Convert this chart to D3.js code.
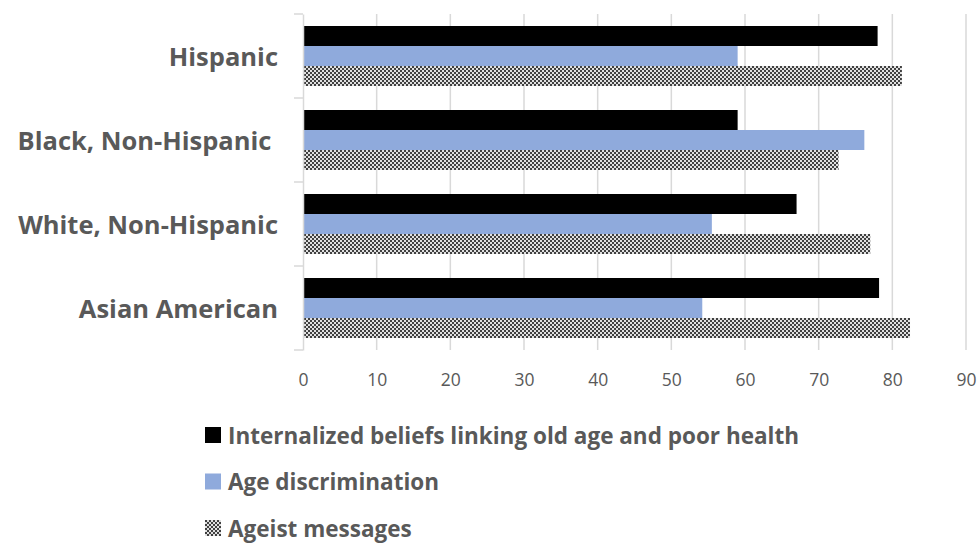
<!DOCTYPE html>
<html>
<head>
<meta charset="utf-8">
<script src="https://cdn.jsdelivr.net/npm/d3@7"></script>
<style>
  html, body { margin: 0; padding: 0; background: #fff; }
  svg { display: block; }
  text { font-family: "Open Sans", sans-serif; fill: #595959; }
</style>
</head>
<body>
<svg id="chart" width="979" height="544"></svg>
<script>
const categories = ["Hispanic", "Black, Non-Hispanic", "White, Non-Hispanic", "Asian American"];
const seriesNames = ["Internalized beliefs linking old age and poor health", "Age discrimination", "Ageist messages"];
const internalized = [78, 59, 67, 78.2];
const discrimination = [59, 76.2, 55.5, 54.2];
const ageistMessages = [81.3, 72.7, 77, 82.4];
const xTicks = [0, 10, 20, 30, 40, 50, 60, 70, 80, 90];

const seriesValues = [internalized, discrimination, ageistMessages];
const svg = d3.select("#chart");

const defs = svg.append("defs");
const pat = defs.append("pattern").attr("id", "checker")
  .attr("patternUnits", "userSpaceOnUse").attr("width", 4).attr("height", 4);
pat.append("rect").attr("width", 4).attr("height", 4).attr("fill", "#e0e0e0");
pat.append("rect").attr("x", 0).attr("y", 0).attr("width", 2).attr("height", 2).attr("fill", "#404040");
pat.append("rect").attr("x", 2).attr("y", 2).attr("width", 2).attr("height", 2).attr("fill", "#404040");

const fills = ["#000000", "#8FAADC", "url(#checker)"];

const x = d3.scaleLinear().domain([0, 90]).range([303, 966]);
const y = d3.scaleBand().domain(categories).range([14, 350]).padding(0);
const ySub = d3.scaleBand().domain(d3.range(3)).range([0, y.bandwidth()]).paddingInner(0).paddingOuter(0.6);

// gridlines
svg.append("g").selectAll("line").data(xTicks.slice(1)).join("line")
  .attr("x1", d => x(d)).attr("x2", d => x(d))
  .attr("y1", 14).attr("y2", 350)
  .attr("stroke", "#d9d9d9").attr("stroke-width", 1.5);

// bars
const groups = svg.append("g").selectAll("g").data(categories).join("g")
  .attr("transform", d => `translate(0,${y(d)})`);
groups.selectAll("rect").data((c, i) => seriesValues.map((s, k) => ({k, v: s[i]}))).join("rect")
  .attr("x", x(0)).attr("y", d => ySub(d.k))
  .attr("width", d => x(d.v) - x(0)).attr("height", ySub.bandwidth())
  .attr("fill", d => fills[d.k]);

// y axis
const yAxis = d3.axisLeft(y).tickSize(0).tickFormat("");
const yg = svg.append("g").attr("transform", `translate(${x(0)},0)`).call(yAxis);
yg.select(".domain").attr("stroke", "#d9d9d9").attr("stroke-width", 1.5);
const bounds = categories.map(c => y(c)).concat([y(categories[categories.length-1]) + y.step()]);
svg.append("g").selectAll("line").data(bounds).join("line")
  .attr("x1", x(0) - 9).attr("x2", x(0)).attr("y1", d => d).attr("y2", d => d)
  .attr("stroke", "#d9d9d9").attr("stroke-width", 1.5);

// category labels
svg.append("g").selectAll("text").data(categories).join("text")
  .attr("x", 278).attr("y", d => y(d) + y.bandwidth() / 2)
  .attr("text-anchor", "end").attr("dominant-baseline", "central")
  .style("white-space", "pre")
  .attr("font-size", 25.5).attr("font-weight", "bold")
  .text(d => d === "Black, Non-Hispanic" ? d + " " : d);

// x axis labels
const xAxis = d3.axisBottom(x).tickValues(xTicks).tickSize(0).tickPadding(24);
const xg = svg.append("g").attr("transform", "translate(0,350)").call(xAxis);
xg.select(".domain").remove();
xg.selectAll("text").attr("font-size", 17.5).attr("font-family", "'Open Sans', sans-serif").attr("fill", "#595959");

// legend
const legend = svg.append("g").selectAll("g").data(seriesNames).join("g")
  .attr("transform", (d, i) => `translate(205,${435 + i * 46.5})`);
legend.append("rect").attr("x", 0).attr("y", -8).attr("width", 16).attr("height", 16)
  .attr("fill", (d, i) => fills[i]);
legend.append("text").attr("x", 23).attr("y", 0).attr("dominant-baseline", "central")
  .attr("font-size", 22.5).attr("font-weight", "bold").text(d => d);
</script>
</body>
</html>
